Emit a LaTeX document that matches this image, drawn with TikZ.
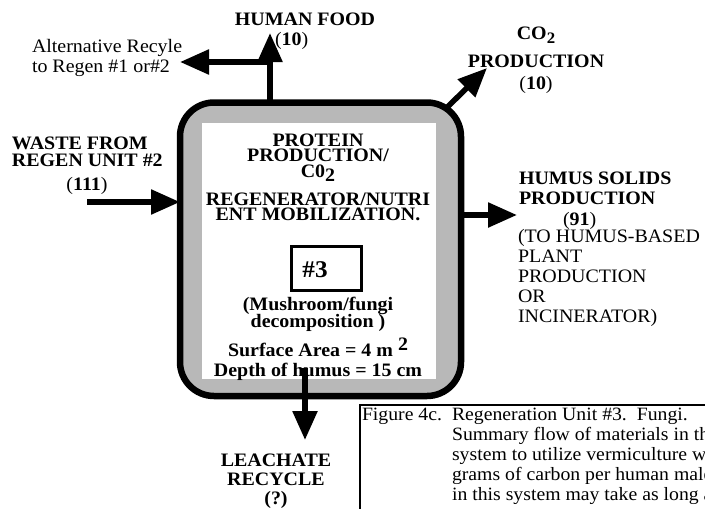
\documentclass[tikz,border=0pt]{standalone}
\usepackage{fontspec}
\setmainfont{Liberation Serif}[FakeStretch=1.05]
\usetikzlibrary{arrows.meta, positioning}

\newcommand{\lblfont}[1]{\fontsize{19}{#1}\selectfont\bfseries\lineskiplimit=-30pt\relax}
\newcommand{\txtfont}[1]{\fontsize{19}{#1}\selectfont\lineskiplimit=-30pt\relax}
\newcommand{\amt}[1]{\textmd{(}#1\textmd{)}}

\begin{document}
\begin{tikzpicture}[
    x=1pt, y=-1pt,
    every node/.style={inner sep=0pt, outer sep=0pt},
    unitbox/.style={draw, line width=6.5pt, rounded corners=34pt, fill=black!28,
        minimum width=281pt, minimum height=293.5pt},
    corebox/.style={fill=white, minimum width=234pt, minimum height=256pt},
    numbox/.style={draw, line width=3pt, minimum width=70pt, minimum height=44pt},
    flowline/.style={line width=5.5pt, -{Triangle[length=29pt,width=24pt]}},
    capbox/.style={draw, line width=2.5pt}
]
\useasboundingbox (0,0) rectangle (705,509);
\clip (0,0) rectangle (705,509);
\fill[white] (0,0) rectangle (705,509);

% regeneration unit 3
\node[unitbox] (regen) at (320.5,249.25) {};
\node[corebox] (core) at (319,251) {};
\node[anchor=north, align=center, font=\lblfont{15.5}] (protein) at (318,133.7)
    {PROTEIN\\PRODUCTION/\\C0\raisebox{-4pt}{2}};
\node[anchor=north, align=center, font=\lblfont{14.8}] (mobil) at (318,193.4)
    {REGENERATOR/NUTRI\\ENT MOBILIZATION.};
\node[numbox] (unitno) at (326.5,268.5) {};
\node[anchor=base, font=\fontsize{24}{24}\selectfont\bfseries] (unitlbl) at (315,277) {\#3};
\node[anchor=north, align=center, font=\lblfont{17}] (fungi) at (318,296.9)
    {(Mushroom/fungi\\decomposition )};
\node[anchor=north, align=center, font=\lblfont{20}] (area) at (318,338.2)
    {Surface Area = 4 m \raisebox{6pt}{2}\\Depth of humus = 15 cm};

% labels round the unit
\node[anchor=base, font=\lblfont{20}] (food) at (305,25) {HUMAN FOOD};
\node[anchor=base west, font=\lblfont{20}] (foodamt) at (275,45) {\amt{10}};
\node[anchor=north west, align=left, font=\txtfont{20}] (alt) at (32,39)
    {Alternative Recyle\\to Regen \#1 or\#2};
\node[anchor=north, align=center, font=\lblfont{20}] (co2) at (536,27.2)
    {CO\raisebox{-4pt}{\fontsize{16}{16}\selectfont 2}\\[8pt]PRODUCTION\\[2pt]\amt{10}};
\node[anchor=north west, align=left, font=\lblfont{17}] (waste) at (12,137.2)
    {WASTE FROM\\REGEN UNIT \#2};
\node[anchor=base, font=\lblfont{20}] (wasteamt) at (87,190) {\amt{111}};
\node[anchor=north west, align=left, font=\lblfont{20}] (humus) at (519,172.2)
    {HUMUS SOLIDS\\PRODUCTION};
\node[anchor=base west, font=\lblfont{20}] (humusamt) at (563,225) {\amt{91}};
\node[anchor=north west, align=left, font=\txtfont{20}] (humususe) at (518,229.8)
    {(TO HUMUS-BASED\\PLANT\\PRODUCTION\\OR\\INCINERATOR)};
\node[anchor=north, align=center, font=\lblfont{19}] (leach) at (276,454.2)
    {LEACHATE\\RECYCLE\\(?)};

% flows
\coordinate (foodtip) at (270,33);
\coordinate (alttip) at (180,62);
\coordinate (wastein) at (87,202);
\coordinate (co2tip) at (487,68);
\coordinate (humustip) at (517,215);
\coordinate (leachtop) at (305,368);
\coordinate (leachtip) at (305,440);
\draw[flowline] (regen.north -| foodtip) -- (foodtip);
\draw[flowline] (foodtip |- alttip) -- (alttip);
\draw[flowline] (wastein) -- (wastein -| regen.west);
\draw[flowline] ([shift={(-14,5)}]regen.north east) -- (co2tip);
\draw[flowline] (humustip -| regen.east) -- (humustip);
\draw[flowline] (leachtop) -- (leachtip);

% caption
\draw[capbox] (360,405) rectangle (760,560);
\node[anchor=base west, font=\fontsize{18.8}{20}\selectfont] (caption) at (362,420)
    {\begin{tabular}[t]{@{}l@{\hspace{10pt}}l@{}}
     Figure 4c. & Regeneration Unit \#3.\ \ Fungi.\\
                & Summary flow of materials in the\\
                & system to utilize vermiculture waste\\
                & grams of carbon per human male\\
                & in this system may take as long as
     \end{tabular}};
\end{tikzpicture}
\end{document}
